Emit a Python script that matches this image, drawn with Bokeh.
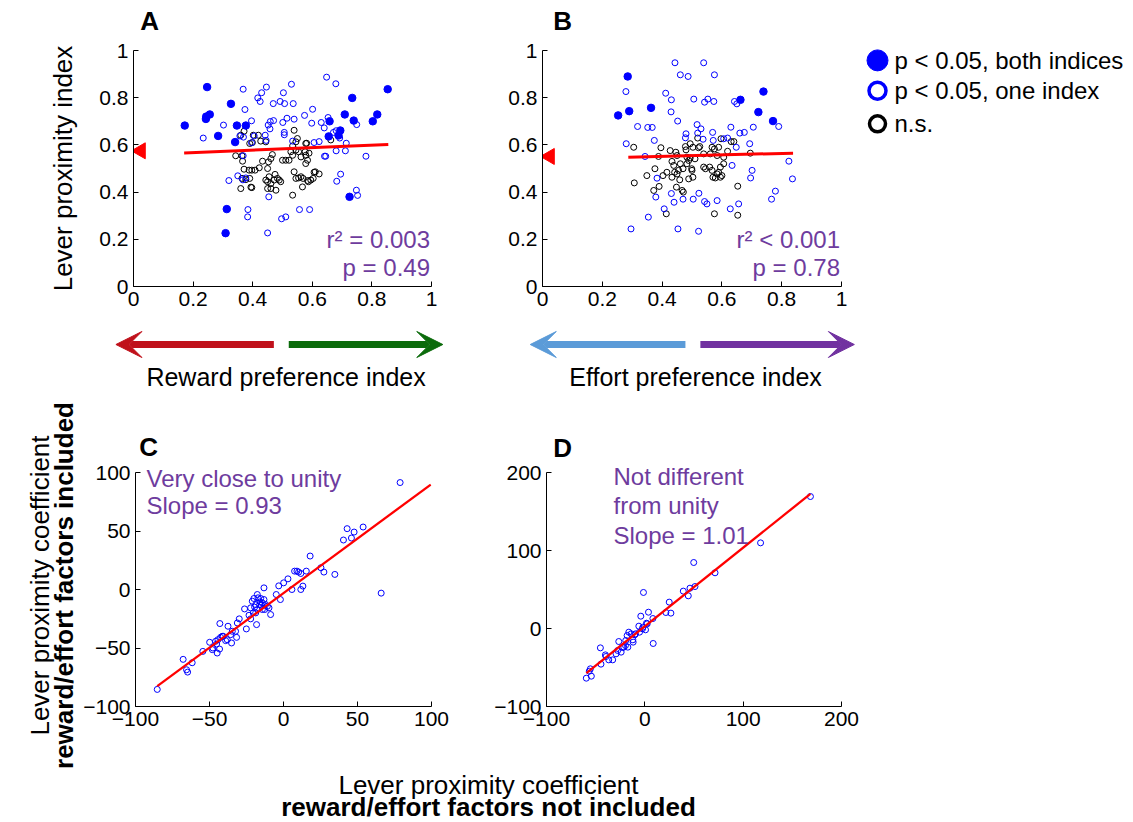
import math
from bokeh.plotting import figure
from bokeh.models import Range1d, FixedTicker, NumeralTickFormatter, Label, Arrow, VeeHead
from bokeh.layouts import row, column
from bokeh.core.properties import value
from bokeh.embed import file_html
from bokeh.resources import INLINE

FONT = "Liberation Sans"
PURPLE = "#6e3c9e"
BLUE = "#0000ff"
RED = "#ff0000"

# ---------------- data ----------------
# Panel A: reward preference index vs lever proximity index
A_both = [(0.172, 0.682), (0.247, 0.845), (0.244, 0.720), (0.243, 0.710), (0.256, 0.729), (0.327, 0.774),
          (0.284, 0.638), (0.347, 0.682), (0.377, 0.682), (0.341, 0.612), (0.313, 0.328), (0.309, 0.226),
          (0.658, 0.700), (0.655, 0.636), (0.694, 0.661), (0.688, 0.640), (0.709, 0.729), (0.734, 0.799),
          (0.739, 0.703), (0.803, 0.700), (0.818, 0.729), (0.853, 0.836), (0.725, 0.380)]
A_one = [(0.234, 0.629), (0.302, 0.684), (0.368, 0.836), (0.374, 0.750), (0.396, 0.702), (0.417, 0.799),
         (0.430, 0.821), (0.425, 0.784), (0.446, 0.845), (0.469, 0.775), (0.492, 0.784), (0.503, 0.821),
         (0.507, 0.775), (0.530, 0.857), (0.536, 0.775), (0.459, 0.699), (0.470, 0.703), (0.452, 0.684),
         (0.458, 0.668), (0.442, 0.641), (0.445, 0.619), (0.506, 0.653), (0.506, 0.643), (0.515, 0.713),
         (0.501, 0.695), (0.539, 0.709), (0.534, 0.616), (0.574, 0.725), (0.601, 0.751), (0.598, 0.692),
         (0.630, 0.695), (0.640, 0.672), (0.623, 0.614), (0.606, 0.610), (0.648, 0.887), (0.679, 0.859),
         (0.653, 0.716), (0.671, 0.653), (0.692, 0.629), (0.680, 0.575), (0.711, 0.575), (0.714, 0.607),
         (0.749, 0.686), (0.780, 0.552), (0.695, 0.476), (0.682, 0.446), (0.748, 0.408), (0.752, 0.386),
         (0.641, 0.552), (0.557, 0.326), (0.591, 0.326), (0.511, 0.295), (0.497, 0.287), (0.454, 0.380),
         (0.450, 0.227), (0.384, 0.326), (0.383, 0.295), (0.320, 0.449), (0.350, 0.469), (0.367, 0.452),
         (0.369, 0.633), (0.357, 0.638), (0.368, 0.554), (0.377, 0.460), (0.405, 0.638), (0.396, 0.609),
         (0.680, 0.660), (0.645, 0.552)]
A_ns = [(0.371, 0.658), (0.360, 0.641), (0.402, 0.641), (0.419, 0.641), (0.399, 0.610), (0.390, 0.606),
        (0.427, 0.616), (0.444, 0.613), (0.343, 0.554), (0.364, 0.554), (0.366, 0.531), (0.371, 0.497),
        (0.388, 0.493), (0.397, 0.493), (0.408, 0.493), (0.422, 0.503), (0.433, 0.531), (0.453, 0.528),
        (0.461, 0.542), (0.466, 0.559), (0.450, 0.500), (0.455, 0.465), (0.444, 0.451), (0.450, 0.444),
        (0.461, 0.436), (0.450, 0.415), (0.461, 0.415), (0.483, 0.458), (0.489, 0.451), (0.494, 0.444),
        (0.475, 0.475), (0.472, 0.451), (0.478, 0.408), (0.500, 0.535), (0.511, 0.535), (0.522, 0.535),
        (0.528, 0.571), (0.534, 0.556), (0.539, 0.662), (0.545, 0.613), (0.550, 0.627), (0.534, 0.596),
        (0.545, 0.578), (0.554, 0.571), (0.562, 0.549), (0.578, 0.606), (0.576, 0.571), (0.578, 0.556),
        (0.584, 0.535), (0.578, 0.521), (0.539, 0.486), (0.545, 0.458), (0.554, 0.460), (0.562, 0.465),
        (0.569, 0.458), (0.567, 0.422), (0.587, 0.444), (0.595, 0.451), (0.603, 0.458), (0.610, 0.486),
        (0.360, 0.415), (0.397, 0.419), (0.534, 0.387), (0.364, 0.458), (0.377, 0.453), (0.390, 0.458),
        (0.581, 0.607), (0.589, 0.565), (0.606, 0.484), (0.623, 0.477), (0.662, 0.621), (0.584, 0.449),
        (0.394, 0.421)]
A_fit_x = [0.170, 0.855]
A_fit_y = [0.566, 0.602]
A_mean_prox = 0.575

# Panel B: effort preference index vs lever proximity index
B_both = [(0.253, 0.725), (0.285, 0.890), (0.290, 0.743), (0.363, 0.757), (0.662, 0.791), (0.722, 0.739),
          (0.739, 0.826), (0.771, 0.701)]
B_one = [(0.279, 0.826), (0.280, 0.605), (0.296, 0.244), (0.318, 0.678), (0.352, 0.674), (0.367, 0.674),
         (0.374, 0.619), (0.343, 0.551), (0.379, 0.379), (0.354, 0.294), (0.383, 0.459), (0.407, 0.329),
         (0.412, 0.819), (0.431, 0.791), (0.430, 0.740), (0.452, 0.701), (0.443, 0.948), (0.461, 0.897),
         (0.487, 0.890), (0.506, 0.794), (0.539, 0.948), (0.575, 0.897), (0.542, 0.781), (0.553, 0.794),
         (0.573, 0.784), (0.480, 0.647), (0.478, 0.630), (0.517, 0.686), (0.530, 0.668), (0.519, 0.650),
         (0.537, 0.624), (0.569, 0.653), (0.571, 0.619), (0.606, 0.626), (0.619, 0.629), (0.630, 0.675),
         (0.642, 0.784), (0.650, 0.774), (0.660, 0.650), (0.675, 0.653), (0.705, 0.675), (0.693, 0.605),
         (0.648, 0.590), (0.634, 0.513), (0.701, 0.492), (0.696, 0.460), (0.790, 0.678), (0.824, 0.531),
         (0.836, 0.456), (0.779, 0.404), (0.766, 0.370), (0.431, 0.394), (0.440, 0.357), (0.470, 0.370),
         (0.504, 0.370), (0.523, 0.395), (0.542, 0.360), (0.550, 0.350), (0.584, 0.364), (0.453, 0.244),
         (0.522, 0.234), (0.628, 0.329), (0.656, 0.350)]
B_ns = [(0.305, 0.590), (0.307, 0.439), (0.349, 0.470), (0.376, 0.499), (0.372, 0.407), (0.390, 0.424),
        (0.388, 0.551), (0.396, 0.588), (0.414, 0.308), (0.403, 0.470), (0.416, 0.484), (0.427, 0.576),
        (0.446, 0.569), (0.450, 0.555), (0.439, 0.513), (0.433, 0.463), (0.442, 0.484), (0.450, 0.477),
        (0.455, 0.492), (0.461, 0.520), (0.470, 0.499), (0.467, 0.407), (0.471, 0.400), (0.448, 0.421),
        (0.459, 0.452), (0.478, 0.593), (0.480, 0.579), (0.494, 0.605), (0.503, 0.590), (0.519, 0.629),
        (0.522, 0.588), (0.526, 0.593), (0.539, 0.562), (0.539, 0.506), (0.559, 0.506), (0.561, 0.562),
        (0.567, 0.590), (0.575, 0.583), (0.584, 0.555), (0.589, 0.590), (0.597, 0.626), (0.606, 0.548),
        (0.567, 0.492), (0.570, 0.463), (0.578, 0.460), (0.584, 0.477), (0.589, 0.484), (0.595, 0.463),
        (0.606, 0.520), (0.619, 0.573), (0.631, 0.614), (0.640, 0.614), (0.489, 0.534), (0.500, 0.492),
        (0.503, 0.463), (0.499, 0.499), (0.494, 0.545), (0.483, 0.520), (0.510, 0.541), (0.575, 0.308),
        (0.653, 0.425), (0.653, 0.302), (0.695, 0.565), (0.545, 0.499), (0.600, 0.470), (0.489, 0.456),
        (0.433, 0.530), (0.483, 0.548), (0.595, 0.506)]
B_fit_x = [0.287, 0.838]
B_fit_y = [0.548, 0.565]
B_mean_prox = 0.551

# Panel C: coefficients (reward factors)
C_pts = [(-85.3, -85.4), (-67.8, -59.7), (-65.5, -68.6), (-64.8, -70.6), (-61.7, -62.6), (-54.5, -52.9),
         (-49.9, -45.1), (-47.7, -50.0), (-44.8, -54.3), (-43.2, -50.9), (-45.2, -46.6), (-44.3, -42.9),
         (-43.0, -29.1), (-42.5, -40.9), (-40.7, -40.0), (-39.1, -43.7), (-37.5, -31.4), (-35.1, -45.7),
         (-34.6, -35.7), (-31.7, -40.9), (-31.2, -28.6), (-29.9, -25.1), (-26.3, -16.6), (-25.1, -33.7),
         (-23.3, -22.0), (-22.2, -25.1), (-20.4, -20.0), (-19.5, -15.1), (-18.2, -30.0), (-17.7, -17.1),
         (-16.1, -12.9), (-15.4, -7.7), (-14.3, -11.4), (-13.2, 1.4), (-12.7, -17.1), (-12.1, -12.9),
         (-10.9, -14.3), (-8.7, -21.4), (-4.9, -4.3), (-3.2, 3.1), (-2.1, -8.6), (0.1, 5.7), (3.0, 9.1),
         (5.7, 0.0), (7.5, 15.7), (9.1, 15.7), (10.2, 14.9), (11.7, 13.7), (11.7, 0.0), (13.1, 2.9),
         (15.4, 15.7), (18.0, 28.6), (25.3, 18.6), (27.3, 14.9), (34.7, 12.9), (40.5, 42.3), (43.0, 52.0),
         (45.9, 44.0), (47.7, 49.1), (53.8, 53.4), (66.0, -3.1), (78.8, 91.4),
         (-21.1, -10.0), (-18.8, -12.9), (-17.2, -7.1), (-15.9, -10.6), (-15.0, -13.4), (-13.2, -8.6),
         (-9.8, -15.7), (-14.3, -17.1), (-18.8, -20.0), (-22.2, -15.7), (-17.7, -4.3), (-20.0, -7.7),
         (-45.9, -44.3), (-41.4, -40.0), (-38.0, -42.9), (-35.7, -38.6), (-32.4, -35.7), (-48.1, -51.4)]
C_fit_x = [-85.3, 99.5]
C_fit_y = [-82.6, 89.7]

# Panel D: coefficients (effort factors)
D_pts = [(168.4, 169.2), (117.7, 109.8), (49.7, 84.6), (71.4, 71.4), (51.0, 53.8), (45.9, 51.7),
         (39.1, 47.9), (44.2, 41.9), (-1.4, 46.2), (24.8, 33.8), (26.5, 19.7), (21.4, 20.5), (3.7, 20.9),
         (8.2, 12.8), (-4.1, 15.8), (8.5, -19.2), (-2.4, -0.4), (-5.4, -4.7), (-9.5, -6.8), (-13.9, -6.8),
         (-16.3, -4.7), (-18.0, -9.0), (-19.4, -15.4), (-11.9, -17.5), (-17.3, -23.9), (-22.8, -24.4),
         (-26.5, -16.7), (-27.6, -28.2), (-32.7, -40.2), (-36.7, -40.2), (-40.1, -33.8), (-45.2, -24.8),
         (-44.6, -45.7), (-55.4, -51.7), (-56.5, -54.7), (-59.5, -63.7), (-54.4, -61.1), (1.7, 6.8),
         (-10.2, -8.1), (-12.2, -14.5), (-19.7, -21.8), (-39.5, -35.9), (-24.1, -30.3), (-21.4, -23.9),
         (-29.3, -32.5), (-2.0, 1.7), (0.7, -1.7), (-6.1, 3.0), (2.4, 6.0)]
D_fit_x = [-59.5, 168.4]
D_fit_y = [-57.3, 172.6]

# ticks
AB_ticks = [0, 0.2, 0.4, 0.6, 0.8, 1]
AB_tick_labels = ["0", "0.2", "0.4", "0.6", "0.8", "1"]
C_ticks = [-100, -50, 0, 50, 100]
C_tick_labels = ["\u2212100", "\u221250", "0", "50", "100"]
D_ticks = [-100, 0, 100, 200]
D_tick_labels = ["\u2212100", "0", "100", "200"]

legend_labels = ["p < 0.05, both indices", "p < 0.05, one index", "n.s."]
A_stats = ["r\u00b2 = 0.003", "p = 0.49"]
B_stats = ["r\u00b2 < 0.001", "p = 0.78"]
C_note = ["Very close to unity", "Slope = 0.93"]
D_note = ["Not different", "from unity", "Slope = 1.01"]
x_titles = ["Reward preference index", "Effort preference index"]
y_title_top = "Lever proximity index"
coef_title = ["Lever proximity coefficient"]
y_coef_bold = "reward/effort factors included"
x_coef_bold = "reward/effort factors not included"


def xs(pts):
    return [p[0] for p in pts]


def ys(pts):
    return [p[1] for p in pts]


def bare(width, height, xr, yr):
    p = figure(width=width, height=height, x_range=Range1d(*xr), y_range=Range1d(*yr),
               output_backend="svg", toolbar_location=None,
               x_axis_location=None, y_axis_location=None,
               min_border_left=0, min_border_right=0, min_border_top=0, min_border_bottom=0)
    p.grid.visible = False
    p.outline_line_color = None
    return p


def panel(width, height, left, right, bottom, xr, yr, ybounds, tx, lx, ty, ly):
    # the frame reaches the top of the canvas; the y axis is bounded to the data range
    p = figure(width=width, height=height, x_range=Range1d(*xr), y_range=Range1d(*yr),
               output_backend="svg", toolbar_location=None,
               min_border_left=left, min_border_right=right,
               min_border_top=0, min_border_bottom=bottom)
    p.grid.visible = False
    p.outline_line_color = None
    p.yaxis[0].bounds = ybounds
    for ax, t, l in ((p.xaxis[0], tx, lx), (p.yaxis[0], ty, ly)):
        ax.ticker = FixedTicker(ticks=t)
        ax.formatter = NumeralTickFormatter(format="0.[0]")
        ax.major_label_overrides = dict(zip(t, l))
        ax.major_tick_in = 5
        ax.major_tick_out = 0
        ax.minor_tick_line_color = None
        ax.axis_line_color = "black"
        ax.major_tick_line_color = "black"
        ax.major_label_text_font = FONT
        ax.major_label_text_font_size = "21px"
        ax.major_label_text_color = "black"
        ax.major_label_standoff = 5
    return p


def letter(p, x, y, t):
    p.add_layout(Label(x=x, y=y, text=t, text_font=FONT, text_font_style="bold",
                       text_font_size="26px", text_align="center", text_baseline="middle",
                       text_color="black"))


def notes(p, x, ys_, texts, align):
    for yy, t in zip(ys_, texts):
        p.add_layout(Label(x=x, y=yy, text=t, text_font=FONT, text_font_size="24px",
                           text_color=PURPLE, text_align=align, text_baseline="middle"))


AB_top = 1 + 50 / 236   # frame extends 50 px above the value 1


def index_panel(width, left, right, both, one, ns, fx, fy, mean, lt, lx, stats):
    p = panel(width, 320, left, right, 34, (0, 1), (0, AB_top), (0, 1),
              AB_ticks, AB_tick_labels, AB_ticks, AB_tick_labels)
    p.scatter(xs(ns), ys(ns), marker="circle", size=6, fill_color=None,
              line_color="black", line_width=1)
    p.scatter(xs(one), ys(one), marker="circle", size=6, fill_color=None,
              line_color=BLUE, line_width=1)
    p.scatter(xs(both), ys(both), marker="circle", size=7.5, fill_color=BLUE,
              line_color=BLUE, line_width=1)
    p.line(fx, fy, line_color=RED, line_width=3)
    p.scatter([0.024], [mean], marker="triangle", angle=math.pi / 2, size=16,
              fill_color=RED, line_color=RED)
    letter(p, lx, 1.127, lt)
    notes(p, 0.995, [0.199, 0.082], stats, "right")
    return p


figA = index_panel(390, 53, 39, A_both, A_one, A_ns, A_fit_x, A_fit_y, A_mean_prox, "A", 0.054, A_stats)
figB = index_panel(380, 72, 9, B_both, B_one, B_ns, B_fit_x, B_fit_y, B_mean_prox, "B", 0.067, B_stats)

# legend figure (page x 850..1125, y 0..320)
figLeg = bare(275, 320, (0, 275), (0, 320))
leg_x = 27
leg_y = [253, 219, 182]
figLeg.scatter([leg_x], [leg_y[0]], marker="circle", size=21, fill_color=BLUE, line_color=BLUE)
figLeg.scatter([leg_x], [leg_y[1]], marker="circle", size=17, fill_color="white",
               line_color=BLUE, line_width=3.5)
figLeg.scatter([leg_x], [leg_y[2]], marker="circle", size=16, fill_color="white",
               line_color="black", line_width=3.5)
figLeg.text([44] * 3, leg_y, text=legend_labels, text_font=value(FONT), text_font_size="24px",
            text_align="left", text_baseline="middle", text_color="black")

# arrows row
arrow_reward = [(0.471, -0.059, "#c0111b"), (0.521, 1.038, "#0b6b0b")]
arrow_effort = [(0.478, -0.041, "#5b9bd8"), (0.528, 1.043, "#7132a0")]


def arrow_fig(width, xr, arrows, title):
    p = bare(width, 80, xr, (0, 80))
    for x0, x1, c in arrows:
        p.add_layout(Arrow(x_start=x0, y_start=56, x_end=x1, y_end=56, line_color=c,
                           line_width=7, start=None,
                           end=VeeHead(size=26, fill_color=c, line_color=c, line_width=1)))
    p.text([0.512], [24], text=[title], text_font=value(FONT), text_font_size="25px",
           text_align="center", text_baseline="middle", text_color="black")
    return p


figArrA = arrow_fig(390, ((80 - 133) / 298, (470 - 133) / 298), arrow_reward, x_titles[0])
figArrB = arrow_fig(400, ((470 - 542) / 299, (870 - 542) / 299), arrow_effort, x_titles[1])

# panel C (frame extends 72 px above the value 100)
C_top = 100 + 72 * 200 / 234
figC = panel(390, 340, 55, 39, 34, (-100, 100), (-100, C_top), (-100, 100),
             C_ticks, C_tick_labels, C_ticks, C_tick_labels)
figC.scatter(xs(C_pts), ys(C_pts), marker="circle", size=6, fill_color=None,
             line_color=BLUE, line_width=1)
figC.line(C_fit_x, C_fit_y, line_color=RED, line_width=2.3)
letter(figC, -91.2, 121.4, "C")
notes(figC, -92.6, [94.9, 71.8], C_note, "left")

# panel D
D_top = 200 + 72 * 300 / 234
figD = panel(400, 340, 76, 29, 34, (-100, 200), (-100, D_top), (-100, 200),
             D_ticks, D_tick_labels, D_ticks, D_tick_labels)
figD.scatter(xs(D_pts), ys(D_pts), marker="circle", size=6, fill_color=None,
             line_color=BLUE, line_width=1)
figD.line(D_fit_x, D_fit_y, line_color=RED, line_width=2.3)
letter(figD, -83.7, 232, "D")
notes(figD, -31.9, [194.9, 157.7, 119.2], D_note, "left")

# bottom x title (page y 740..822)
figBot = bare(790, 82, (0, 790), (0, 82))
figBot.text([408], [38], text=coef_title, text_font=value(FONT), text_font_size="26px",
            text_align="center", text_baseline="middle", text_color="black")
figBot.text([408], [16], text=[x_coef_bold], text_font=value(FONT), text_font_size="26px",
            text_font_style="bold", text_align="center", text_baseline="middle",
            text_color="black")

# left y titles (page x 0..80, y 0..822)
figLeft = bare(80, 822, (0, 80), (0, 822))
figLeft.text([62], [654], text=[y_title_top], angle=math.pi / 2, text_font=value(FONT),
             text_font_size="26px", text_align="center", text_baseline="middle", text_color="black")
figLeft.text([39], [237], text=coef_title, angle=math.pi / 2, text_font=value(FONT),
             text_font_size="26px", text_align="center", text_baseline="middle", text_color="black")
figLeft.text([63], [237], text=[y_coef_bold], angle=math.pi / 2, text_font=value(FONT),
             text_font_size="26px", text_font_style="bold", text_align="center",
             text_baseline="middle", text_color="black")

layout = row(figLeft,
             column(row(figA, figB, figLeg),
                    row(figArrA, figArrB),
                    row(figC, figD),
                    figBot))

open("out.html", "w").write(file_html(layout, INLINE))
